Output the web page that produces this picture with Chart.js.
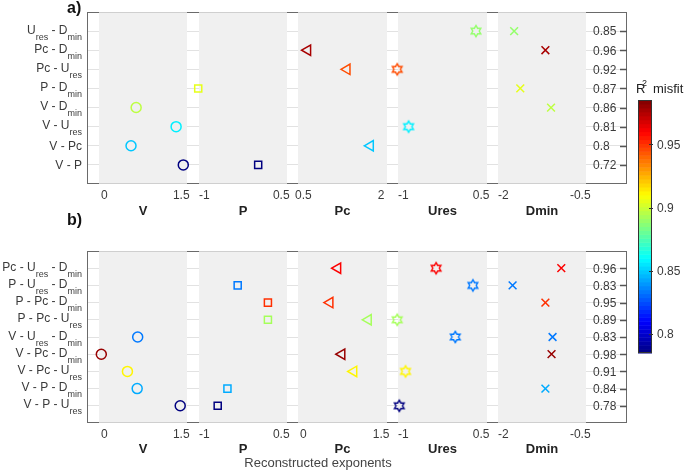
<!DOCTYPE html>
<html>
<head>
<meta charset="utf-8">
<script src="https://cdn.jsdelivr.net/npm/chart.js@4.4.1/dist/chart.umd.min.js"></script>
<style>
html, body { margin: 0; padding: 0; background: #fff; }
#wrap { position: relative; width: 685px; height: 471px; }
canvas { position: absolute; left: 0; top: 0; }
</style>
</head>
<body>
<div id="wrap">
  <canvas id="chartB" width="685" height="471"></canvas>
  <canvas id="chartA" width="685" height="471"></canvas>
</div>
<script>
// ---- data: panel a) pairs ----
const rowsA = ['U_res - D_min', 'Pc - D_min', 'Pc - U_res', 'P - D_min', 'V - D_min', 'V - U_res', 'V - Pc', 'V - P'];
const r2A   = [0.85, 0.96, 0.92, 0.87, 0.86, 0.81, 0.8, 0.72];
const vA    = [null, null, null, null, 0.62, 1.40, 0.52, 1.54];
const pA    = [null, null, null, -1.12, null, null, null, 0.05];
const pcA   = [null, 0.58, 1.34, null, null, null, 1.79, null];
const uresA = [0.40, null, -1.12, null, null, -0.90, null, null];
const dminA = [-1.79, -1.18, null, -1.67, -1.07, null, null, null];
const ticksA = [[0, 1.5], [-1, 0.5], [0.5, 2], [-1, 0.5], [-2, -0.5]];

// ---- data: panel b) triples ----
const rowsB = ['Pc - U_res - D_min', 'P - U_res - D_min', 'P - Pc - D_min', 'P - Pc - U_res', 'V - U_res - D_min',
               'V - Pc - D_min', 'V - Pc - U_res', 'V - P - D_min', 'V - P - U_res'];
const r2B   = [0.96, 0.83, 0.95, 0.89, 0.83, 0.98, 0.91, 0.84, 0.78];
const vB    = [null, null, null, null, 0.65, -0.06, 0.45, 0.64, 1.48];
const pB    = [null, -0.35, 0.24, 0.24, null, null, null, -0.55, -0.74];
const pcB   = [0.66, null, 0.51, 1.25, null, 0.74, 0.97, null, null];
const uresB = [-0.37, 0.34, null, -1.12, 0.0, null, -0.96, null, -1.08];
const dminB = [-0.87, -1.82, -1.18, null, -1.04, -1.06, null, -1.18, null];
const ticksB = [[0, 1.5], [-1, 0.5], [0, 1.5], [-1, 0.5], [-2, -0.5]];

const panelNames = ['V', 'P', 'Pc', 'Ures', 'Dmin'];
const colorbarTicks = [0.8, 0.85, 0.9, 0.95];

const FONT = "'Liberation Sans', Arial, sans-serif";
const TXT = '#3a3a3a';
// widths of the strips along the x axis: pad, V, gap, P, gap, Pc, gap, Ures, gap, Dmin, right part
const stripWeights = [12, 88, 12, 88, 11, 89, 11, 89, 11, 88, 41];

function jet(t) {
  t = Math.min(1, Math.max(0, t));
  const c = v => Math.round(255 * Math.min(1, Math.max(0, v)));
  return 'rgb(' + c(1.5 - Math.abs(4 * t - 3)) + ',' + c(1.5 - Math.abs(4 * t - 2)) + ',' + c(1.5 - Math.abs(4 * t - 1)) + ')';
}

const starCache = {};
function hexagram(color) {
  if (starCache[color]) return starCache[color];
  const c = document.createElement('canvas');
  c.width = 16; c.height = 16;
  const g = c.getContext('2d');
  g.strokeStyle = color;
  g.lineWidth = 1.4;
  g.beginPath();
  for (let k = 0; k < 12; k++) {
    const r = k % 2 ? 5.6 / Math.sqrt(3) : 5.6;
    const a = -Math.PI / 2 + k * Math.PI / 6;
    const px = 8 + r * Math.cos(a), py = 8 + r * Math.sin(a);
    if (k) g.lineTo(px, py); else g.moveTo(px, py);
  }
  g.closePath();
  g.stroke();
  starCache[color] = c;
  return c;
}

// label like 'V - U_res' -> main text with subscripts
function drawRich(ctx, text, xRight, y) {
  const parts = text.split(/_(\w+)/);
  const hasSub = parts.length > 1;
  const main = '12px ' + FONT, sub = '9px ' + FONT;
  let w = 0;
  parts.forEach((t, i) => { ctx.font = i % 2 ? sub : main; w += ctx.measureText(t).width; });
  let x = xRight - w;
  ctx.textAlign = 'left';
  ctx.textBaseline = 'alphabetic';
  parts.forEach((t, i) => {
    ctx.font = i % 2 ? sub : main;
    const by = i % 2 ? y + 8.5 : (hasSub ? y + 2.5 : y + 4.5);
    ctx.fillText(t, x, by);
    x += ctx.measureText(t).width;
  });
}

function makeChart(id, spec) {
  const styles = ['circle', 'rect', 'triangle', null, 'crossRot'];
  const radii = [5, 5, 6, 5, 5.5];
  const colorOf = i => jet((spec.r2[i] - spec.range[0]) / (spec.range[1] - spec.range[0]));

  const datasets = spec.values.map((arr, p) => {
    const pts = [];
    arr.forEach((v, i) => { if (v !== null) pts.push({x: v, y: i}); });
    const col = ctx => (ctx.raw ? colorOf(ctx.raw.y) : '#000');
    return {
      label: panelNames[p],
      data: pts,
      xAxisID: 'x' + (2 * p + 1),
      yAxisID: 'y',
      clip: false,
      pointStyle: p === 3 ? (ctx => hexagram(col(ctx))) : styles[p],
      pointRotation: p === 2 ? 270 : 0,
      pointRadius: radii[p],
      pointBorderWidth: 1.5,
      pointBorderColor: col,
      pointBackgroundColor: 'rgba(0,0,0,0)',
      showLine: false
    };
  });

  const scales = {
    y: {
      type: 'linear', position: 'left', min: -1, max: spec.rows.length, reverse: true,
      afterBuildTicks: s => { s.ticks = spec.rows.map((_, i) => ({value: i})); },
      afterFit: s => { s.width = 87; },
      ticks: {display: false},
      grid: {color: '#e2e2e2', drawTicks: false},
      border: {display: false}
    }
  };
  stripWeights.forEach((w, k) => {
    const sc = {
      type: 'linear', position: 'bottom', stack: 'row', stackWeight: w,
      afterFit: s => { s.height = spec.axisH; },
      grid: {display: false, drawTicks: false},
      border: {display: false},
      ticks: {display: false}
    };
    if (k % 2 === 1 && k < 10) {
      const p = (k - 1) / 2;
      const lo = spec.ticks[p][0], hi = spec.ticks[p][1];
      const span = hi - lo;
      sc.min = lo - 0.07 * span;
      sc.max = hi + 0.075 * span;
      sc.afterBuildTicks = s => { s.ticks = [{value: lo}, {value: hi}]; };
      sc.ticks = {display: true, autoSkip: false, maxRotation: 0, padding: 4, color: TXT,
                  font: {family: FONT, size: 12}, callback: v => String(v)};
      sc.title = {display: true, text: panelNames[p], color: '#222',
                  font: {family: FONT, size: 13, weight: 'bold'}, padding: {top: 0, bottom: spec.titlePad}};
    }
    scales['x' + k] = sc;
  });

  const deco = {
    id: 'deco',
    beforeDatasetsDraw(chart) {
      const {ctx, chartArea: a} = chart;
      ctx.save();
      ctx.fillStyle = '#f0f0f0';
      for (let p = 0; p < 5; p++) {
        const s = chart.scales['x' + (2 * p + 1)];
        ctx.fillRect(s.left, a.top, s.right - s.left, a.bottom - a.top);
      }
      ctx.lineWidth = 1;
      for (let k = 0; k < stripWeights.length; k++) {
        const s = chart.scales['x' + k];
        ctx.strokeStyle = (k % 2 === 1 && k < 10) ? '#cfcfcf' : '#6a6a6a';
        ctx.beginPath();
        ctx.moveTo(s.left, a.top + 0.5); ctx.lineTo(s.right, a.top + 0.5);
        ctx.moveTo(s.left, a.bottom - 0.5); ctx.lineTo(s.right, a.bottom - 0.5);
        ctx.stroke();
      }
      ctx.strokeStyle = '#6a6a6a';
      ctx.beginPath();
      ctx.moveTo(a.left + 0.5, a.top); ctx.lineTo(a.left + 0.5, a.bottom);
      ctx.moveTo(a.right - 0.5, a.top); ctx.lineTo(a.right - 0.5, a.bottom);
      ctx.stroke();
      ctx.restore();
    },
    afterDraw(chart) {
      const {ctx, chartArea: a} = chart;
      const ys = chart.scales.y;
      ctx.save();
      ctx.fillStyle = TXT;
      spec.rows.forEach((lab, i) => {
        const y = ys.getPixelForValue(i);
        drawRich(ctx, lab, a.left - 5, y);
        ctx.font = '12px ' + FONT;
        ctx.textAlign = 'left';
        ctx.textBaseline = 'middle';
        ctx.fillText(String(spec.r2[i]), a.right - 34, y + 1);
        ctx.strokeStyle = '#555';
        ctx.beginPath();
        ctx.moveTo(a.right - 7, Math.round(y) + 0.5);
        ctx.lineTo(a.right, Math.round(y) + 0.5);
        ctx.stroke();
      });
      ctx.font = 'bold 16px ' + FONT;
      ctx.fillStyle = '#111';
      ctx.textAlign = 'left';
      ctx.textBaseline = 'alphabetic';
      ctx.fillText(spec.letter, 67, spec.letterY);
      if (spec.extra) spec.extra(ctx);
      ctx.restore();
    }
  };

  return new Chart(document.getElementById(id), {
    type: 'scatter',
    data: {datasets},
    options: {
      responsive: false,
      animation: false,
      events: [],
      devicePixelRatio: 1,
      layout: {padding: {top: spec.padTop, right: 58, bottom: spec.padBottom, left: 0}},
      plugins: {legend: {display: false}, tooltip: {enabled: false}},
      scales
    },
    plugins: [deco]
  });
}

// colorbar and the shared x-axis title
function drawExtras(ctx) {
  const cbMin = 0.785, cbMax = 0.985;
  const x0 = 638, x1 = 652, top = 100, bottom = 353;
  const n = 64, h = (bottom - top) / n;
  for (let k = 0; k < n; k++) {
    ctx.fillStyle = jet((k + 0.5) / n);
    ctx.fillRect(x0, bottom - (k + 1) * h, x1 - x0, h + 0.5);
  }
  ctx.strokeStyle = '#333';
  ctx.lineWidth = 1;
  ctx.strokeRect(x0 + 0.5, top + 0.5, x1 - x0 - 1, bottom - top - 1);
  ctx.font = '12px ' + FONT;
  ctx.fillStyle = TXT;
  ctx.textAlign = 'left';
  ctx.textBaseline = 'middle';
  colorbarTicks.forEach(v => {
    const y = bottom - (v - cbMin) / (cbMax - cbMin) * (bottom - top);
    ctx.beginPath();
    ctx.moveTo(x1 - 3, Math.round(y) + 0.5); ctx.lineTo(x1 + 1, Math.round(y) + 0.5);
    ctx.stroke();
    ctx.fillText(String(v), 657, y + 1);
  });
  ctx.fillStyle = '#222';
  ctx.textBaseline = 'alphabetic';
  ctx.font = '13px ' + FONT;
  ctx.fillText('R', 636, 93);
  ctx.font = '9px ' + FONT;
  ctx.fillText('2', 642, 86);
  ctx.font = '13px ' + FONT;
  ctx.fillText('misfit', 653, 93);
  ctx.font = '13px ' + FONT;
  ctx.fillStyle = '#444';
  ctx.textAlign = 'center';
  ctx.textBaseline = 'middle';
  ctx.fillText('Reconstructed exponents', 318, 463);
}

makeChart('chartA', {
  rows: rowsA, r2: r2A, values: [vA, pA, pcA, uresA, dminA], ticks: ticksA,
  range: [0.72, 0.97], padTop: 12, padBottom: 236, axisH: 51, titlePad: 16,
  letter: 'a)', letterY: 13
});
makeChart('chartB', {
  rows: rowsB, r2: r2B, values: [vB, pB, pcB, uresB, dminB], ticks: ticksB,
  range: [0.78, 0.985], padTop: 251, padBottom: 0, axisH: 48, titlePad: 14,
  letter: 'b)', letterY: 225, extra: drawExtras
});
</script>
</body>
</html>
